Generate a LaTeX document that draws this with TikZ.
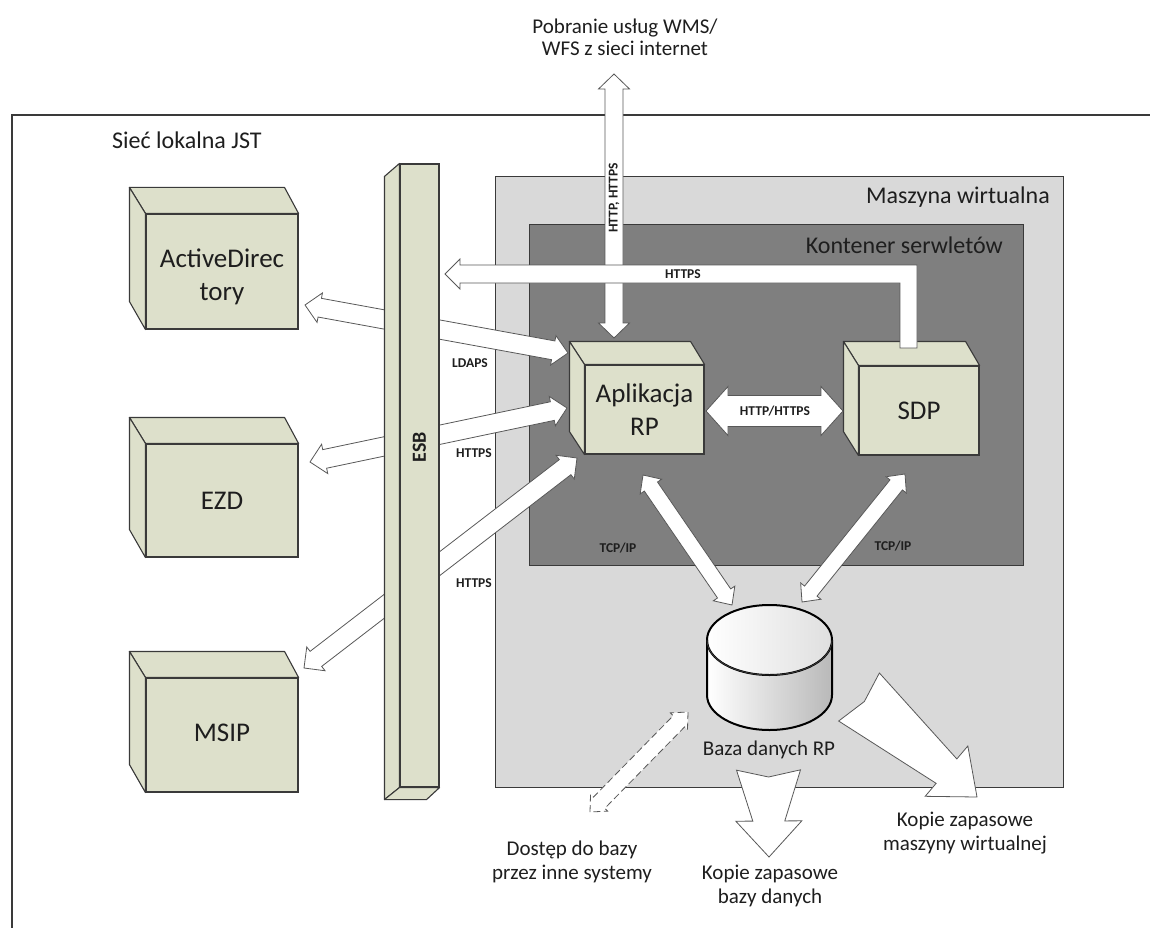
\documentclass[tikz,border=0pt]{standalone}
\usepackage{fontspec}
\setmainfont{Carlito}
\usetikzlibrary{calc}
\definecolor{boxfill}{HTML}{DDE0CB}
\definecolor{vmfill}{HTML}{D9D9D9}
\definecolor{ctfill}{HTML}{7F7F7F}
\definecolor{edge}{HTML}{3A3A3A}
\definecolor{txt}{HTML}{1E1E1E}
% double-headed fat arrow: [opts]{A}{B}{body half}{head half}{head length}
\newcommand\dblarrow[6][]{\draw[fatarrow,#1]
 (#2) -- ($(#2)!#6!(#3)!#5!90:(#3)$) -- ($(#2)!#6!(#3)!#4!90:(#3)$)
 -- ($(#3)!#6!(#2)!#4!-90:(#2)$) -- ($(#3)!#6!(#2)!#5!-90:(#2)$) -- (#3)
 -- ($(#3)!#6!(#2)!#5!90:(#2)$) -- ($(#3)!#6!(#2)!#4!90:(#2)$)
 -- ($(#2)!#6!(#3)!#4!-90:(#3)$) -- ($(#2)!#6!(#3)!#5!-90:(#3)$) -- cycle;}
% tapered arrow: [opts]{A tail}{B tip}{tail half}{notch}{body half}{head half}{head length}
\newcommand\taparrow[8][]{\draw[fatarrow,#1]
 ($(#2)!#4!90:(#3)$) -- ($(#2)!#5!(#3)$) -- ($(#2)!#4!-90:(#3)$)
 -- ($(#3)!#8!(#2)!#6!90:(#2)$) -- ($(#3)!#8!(#2)!#7!90:(#2)$) -- (#3)
 -- ($(#3)!#8!(#2)!#7!-90:(#2)$) -- ($(#3)!#8!(#2)!#6!-90:(#2)$) -- cycle;}
\begin{document}
\begin{tikzpicture}[x=1pt,y=-1pt,
  boxfront/.style={draw=edge, fill=boxfill, line width=1.1pt, inner sep=0pt, align=center,
     font=\fontsize{27}{33}\selectfont, text=txt},
  face/.style={draw=edge, fill=boxfill, line width=1.1pt, line join=round},
  fatarrow/.style={draw=edge!85, fill=white, line width=0.8pt},
  small/.style={font=\bfseries\fontsize{13.5}{16}\selectfont, text=txt, inner sep=0pt},
  big/.style={font=\fontsize{21}{25}\selectfont, text=txt, align=center, inner sep=0pt},
  title/.style={font=\fontsize{24}{28}\selectfont, text=txt, inner sep=0pt},
]
\useasboundingbox (0,0) rectangle (1150,928);
\fill[white] (0,0) rectangle (1150,928);
% local network frame
\draw[edge, line width=1.2pt] (12,935) -- (12,115) -- (1160,115);
\node[title, anchor=west] (lan) at (112,140) {Sieć lokalna JST};
% virtual machine and servlet container
\node[draw=edge, fill=vmfill, line width=1pt, minimum width=568pt, minimum height=610pt, inner sep=0pt] (vm) at (779,482) {};
\node[title, anchor=east] (vmlbl) at (1050,197) {Maszyna wirtualna};
\node[draw=edge, fill=ctfill, line width=1pt, minimum width=494pt, minimum height=341pt, inner sep=0pt] (ct) at (776,394.5) {};
\node[title, anchor=east] (ctlbl) at (1003,245) {Kontener serwletów};
% endpoints
\coordinate (ldA) at (305,305); \coordinate (ldB) at (568,353);
\coordinate (ezA) at (310,462); \coordinate (ezB) at (567,408);
\coordinate (msA) at (304,668); \coordinate (msB) at (577,458);
% arrows through ESB
\dblarrow{ldA}{ldB}{9.5pt}{15pt}{15pt}
\dblarrow{ezA}{ezB}{9.5pt}{15pt}{15pt}
\dblarrow{msA}{msB}{9.5pt}{15pt}{15pt}
% ESB bar
\node[boxfront, minimum width=39pt, minimum height=623pt] (esb) at (419.5,475.5) {};
\draw[face] (esb.north west) -- ([shift={(-15,13)}]esb.north west) -- ([shift={(-15,12)}]esb.south west) -- (esb.south west) -- cycle;
\draw[face] (esb.south west) -- (esb.south east) -- ([shift={(-13,12)}]esb.south east) -- ([shift={(-15,12)}]esb.south west) -- cycle;
\node[small, font=\bfseries\fontsize{20}{24}\selectfont, rotate=90] (esblbl) at (419.5,447) {ESB};
% left boxes
\node[boxfront, minimum width=152pt, minimum height=115pt] (ad) at (222,271.5) {};
\node[boxfront, minimum width=152pt, minimum height=113pt] (ezd) at (222,500.5) {};
\node[boxfront, minimum width=152pt, minimum height=114pt] (msip) at (222,735) {};
\foreach \b in {ad,ezd,msip}{
  \draw[face] (\b.north west) -- ([shift={(-16,-26)}]\b.north west) -- ([shift={(-14,-26)}]\b.north east) -- (\b.north east) -- cycle;
  \draw[face] (\b.north west) -- ([shift={(-16,-26)}]\b.north west) -- ([shift={(-16,-28)}]\b.south west) -- (\b.south west) -- cycle;
}
\node[boxfront, draw=none, fill=none] at ([yshift=-5pt]ad.center) {ActiveDirec\\tory};
\node[boxfront, draw=none, fill=none] at (ezd.center) {EZD};
\node[boxfront, draw=none, fill=none] at ([yshift=2pt]msip.center) {MSIP};
% application boxes
\node[boxfront, minimum width=119pt, minimum height=89pt] (app) at (644.5,409.5) {Aplikacja\\RP};
\node[boxfront, minimum width=120pt, minimum height=89pt] (sdp) at (919,410.5) {SDP};
\foreach \b/\dx/\dy in {app/-15/-23,sdp/-15/-24}{
  \draw[face] (\b.north west) -- ([shift={(\dx,\dy)}]\b.north west) -- ([shift={(\dx+1,\dy)}]\b.north east) -- (\b.north east) -- cycle;
  \draw[face] (\b.north west) -- ([shift={(\dx,\dy)}]\b.north west) -- ([shift={(\dx,\dy)}]\b.south west) -- (\b.south west) -- cycle;
}
% internet arrow
\coordinate (netA) at (614,338); \coordinate (netB) at (614,74);
\dblarrow{netA}{netB}{9pt}{15.5pt}{15pt}
\node[small, rotate=90] (l1) at (614,198) {HTTP, HTTPS};
\node[big] (net) at (625,37) {Pobranie usług WMS/\\[-3pt]WFS z sieci internet};
% SDP -> ESB (HTTPS)
\draw[fatarrow] (917,348) -- (917,265) -- (460,265) -- (460,259) -- (445,274) -- (460,289) -- (460,283) -- (900,283) -- (900,348) -- cycle;
\node[small] (l2) at (683,274) {HTTPS};
% app <-> sdp
\coordinate (hA) at (706,411); \coordinate (hB) at (843,411);
\dblarrow{hA}{hB}{15.5pt}{24.5pt}{22pt}
\node[small] (l3) at (775,411) {HTTP/HTTPS};
% database
\fill[left color=white, right color=gray!55] (707,640) -- (707,695) arc[start angle=180, end angle=360, x radius=62.5pt, y radius=35pt] -- (832,640) -- cycle;
\fill[left color=white, right color=gray!25] (769.5,640) ellipse[x radius=62.5pt, y radius=35pt];
\draw[black, line width=2pt] (707,640) -- (707,695) arc[start angle=180, end angle=360, x radius=62.5pt, y radius=35pt] -- (832,640);
\draw[black, line width=2pt] (769.5,640) ellipse[x radius=62.5pt, y radius=35pt];
\draw[edge, line width=0.8pt] (707,640) arc[start angle=180, end angle=360, x radius=62.5pt, y radius=35pt];
\node[inner sep=0pt, minimum width=125pt, minimum height=125pt] (db) at (769.5,667.5) {};
\node[big] (dblbl) at (769,750) {Baza danych RP};
% TCP/IP arrows
\coordinate (t1A) at (643,475); \coordinate (t1B) at (732,605);
\coordinate (t2A) at (905,474); \coordinate (t2B) at (802,602);
\dblarrow{t1A}{t1B}{8pt}{13pt}{14pt}
\dblarrow{t2A}{t2B}{8pt}{13pt}{14pt}
\node[small] (l4) at (618,548) {TCP/IP};
\node[small] (l5) at (893,546) {TCP/IP};
% LDAPS / HTTPS labels
\node[small] (l6) at (470,363) {LDAPS};
\node[small] (l7) at (474,453) {HTTPS};
\node[small] (l8) at (474,583) {HTTPS};
% other systems (dashed)
\coordinate (dA) at (590,812); \coordinate (dB) at (688,712);
\dblarrow[dash pattern=on 7pt off 3.5pt]{dA}{dB}{8pt}{12pt}{13pt}
\node[big] (other) at (572,862) {Dostęp do bazy\\[-1pt]przez inne systemy};
% backups
\coordinate (bA) at (768.5,770); \coordinate (bB) at (769,857);
\taparrow{bA}{bB}{32pt}{7pt}{16pt}{33pt}{36pt}
\node[big] (bk1) at (770,886) {Kopie zapasowe\\[-1pt]bazy danych};
\coordinate (vA) at (859,697); \coordinate (vB) at (977,797);
\taparrow{vA}{vB}{31.5pt}{7pt}{16pt}{33pt}{40pt}
\node[big] (bk2) at (965,833) {Kopie zapasowe\\[-1pt]maszyny wirtualnej};
\end{tikzpicture}
\end{document}
